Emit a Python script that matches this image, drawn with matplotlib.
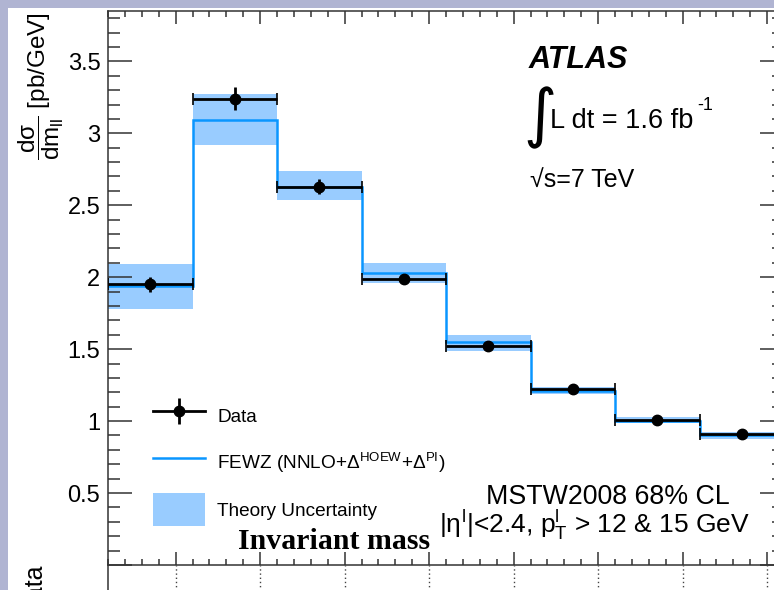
import numpy as np
import matplotlib
matplotlib.use("Agg")
import matplotlib.pyplot as plt
from matplotlib.lines import Line2D
from matplotlib.patches import Patch, Rectangle
from matplotlib.ticker import MultipleLocator

# Drell-Yan low-mass cross section, 7 TeV, 1.6 fb^-1
mass_edges = [26, 31, 36, 41, 46, 51, 56, 61, 66]
data_xsec = [1.95, 3.24, 2.63, 1.99, 1.52, 1.22, 1.01, 0.91]
data_err = [0.05, 0.08, 0.055, 0.03, 0.025, 0.02, 0.02, 0.02]
fewz_xsec = [1.94, 3.09, 2.63, 2.03, 1.55, 1.21, 1.00, 0.90]
theory_lo = [1.78, 2.92, 2.54, 1.96, 1.49, 1.185, 0.984, 0.873]
theory_hi = [2.09, 3.27, 2.74, 2.10, 1.60, 1.235, 1.028, 0.926]
ytick_vals = [0, 0.5, 1, 1.5, 2, 2.5, 3, 3.5]
ytick_text = ["", "0.5", "1", "1.5", "2", "2.5", "3", "3.5"]

plt.rcParams['font.family'] = ['Liberation Sans', 'DejaVu Sans']
plt.rcParams['mathtext.fontset'] = 'custom'
plt.rcParams['mathtext.rm'] = 'Liberation Sans'
plt.rcParams['mathtext.it'] = 'Liberation Sans'
plt.rcParams['mathtext.bf'] = 'Liberation Sans:bold'
plt.rcParams['mathtext.sf'] = 'Liberation Sans'

W, H = 774, 590
line_blue = '#0a96ff'
band_blue = '#99ccff'

fig = plt.figure(figsize=(W / 100, H / 100), dpi=100, facecolor='#b0b4d2')
fig.add_artist(Rectangle((8 / W, 0), 1, (H - 8) / H, transform=fig.transFigure,
                         facecolor='white', edgecolor='none', zorder=-5))

# main panel (right edge runs past the figure)
ax = fig.add_axes([108 / W, (H - 565) / H, 676 / W, 554 / H])
edges = np.array(mass_edges, dtype=float)
centers = 0.5 * (edges[:-1] + edges[1:])
widths = np.diff(edges)
lo = np.array(theory_lo)
hi = np.array(theory_hi)

ax.bar(centers, hi - lo, bottom=lo, width=widths, color=band_blue, linewidth=0, zorder=1)
ax.stairs(fewz_xsec, edges, baseline=None, color=line_blue, linewidth=1.8, zorder=2)
ax.errorbar(centers, data_xsec, xerr=widths / 2, fmt='none', ecolor='black',
            elinewidth=2, capsize=4.3, capthick=1.2, zorder=3)
ax.errorbar(centers, data_xsec, yerr=data_err, fmt='o', color='black', ms=7.5,
            elinewidth=2, capsize=0, zorder=4)

ax.set_xlim(26, 66)
ax.set_ylim(0, 3.85)
ax.xaxis.set_major_locator(MultipleLocator(5))
ax.xaxis.set_minor_locator(MultipleLocator(1))
ax.set_yticks(ytick_vals)
ax.set_yticklabels(ytick_text)
ax.yaxis.set_minor_locator(MultipleLocator(0.1))
ax.tick_params(axis='x', which='both', direction='in', top=True, bottom=True,
               labelbottom=False, width=1.1, color='#333333')
ax.tick_params(axis='x', which='major', length=9.4)
ax.tick_params(axis='x', which='minor', length=4.3)
ax.tick_params(axis='y', which='both', direction='in', left=True, right=True,
               width=1.1, color='#333333')
ax.tick_params(axis='y', which='major', length=17.3, labelsize=17, pad=5.5)
ax.tick_params(axis='y', which='minor', length=8.6)
for s in ax.spines.values():
    s.set_linewidth(1.1)
    s.set_color('#333333')

ax.set_ylabel(r'$\dfrac{\mathrm{d}\sigma}{\mathrm{dm_{ll}}}$ [pb/GeV]', fontsize=17.5,
              loc='top')
ax.yaxis.set_label_coords(-0.062, 0.998)

# legend
h_data = (Line2D([], [], color='black', lw=2, marker='o', ms=7.5),
          Line2D([], [], color='black', ls='none', marker='|', ms=19, mew=2))
h_fewz = Line2D([], [], color=line_blue, lw=1.8)
h_band = Patch(facecolor=band_blue, edgecolor='none')
ax.legend([h_data, h_fewz, h_band],
          ['Data', r'FEWZ (NNLO+$\Delta^{\mathrm{HOEW}}$+$\Delta^{\mathrm{PI}}$)',
           'Theory Uncertainty'],
          loc='upper left', bbox_to_anchor=(153 / W, (H - 400) / H),
          bbox_transform=fig.transFigure, frameon=False, fontsize=13.7,
          handlelength=2.74, handleheight=2.29, labelspacing=0.72,
          handletextpad=0.63, borderpad=0, borderaxespad=0)

# labels
fig.text(529 / W, (H - 68) / H, 'ATLAS', fontsize=22, fontweight='bold',
         fontstyle='italic', ha='left', va='baseline')
fig.text(523 / W, (H - 135) / H, '\u222b', fontsize=46, ha='left', va='baseline',
         family=['DejaVu Sans'])
fig.text(550 / W, (H - 128) / H, 'L dt = 1.6 fb', fontsize=19.5,
         ha='left', va='baseline')
fig.text(697 / W, (H - 110) / H, '-1', fontsize=13, ha='left', va='baseline')
fig.text(530 / W, (H - 187) / H, '\u221as=7 TeV', fontsize=18, ha='left',
         va='baseline')
fig.text(730 / W, (H - 504) / H, 'MSTW2008 68% CL', fontsize=19.3, ha='right',
         va='baseline')
fig.text(750 / W, (H - 533) / H,
         r'$|\eta^{\mathrm{l}}|$<2.4, $\mathrm{p_T^l}$ > 12 & 15 GeV',
         fontsize=19, ha='right', va='baseline')
fig.text(238 / W, (H - 549) / H, 'Invariant mass', fontsize=21.5,
         fontweight='bold', family='Liberation Serif', ha='left', va='baseline')

# ratio panel underneath (only its top edge shows)
ax2 = fig.add_axes([108 / W, -0.5, 676 / W, 0.5 + 25 / H], sharex=ax)
ax2.set_ylim(0, 1)
for k in ['top', 'right', 'bottom']:
    ax2.spines[k].set_visible(False)
ax2.spines['left'].set_linewidth(1.1)
ax2.spines['left'].set_color('#333333')
ax2.tick_params(axis='both', which='both', bottom=False, left=False,
                labelbottom=False, labelleft=False)
ax2.grid(axis='x', which='major', color='#444444', linestyle=(0, (1, 2)),
         linewidth=1)
ax2.set_facecolor('none')
fig.text(36 / W, (H - 564) / H, 'Theory/Data', rotation=90, fontsize=18,
         ha='center', va='top')

fig.savefig('out.png', dpi=100, facecolor=fig.get_facecolor())
